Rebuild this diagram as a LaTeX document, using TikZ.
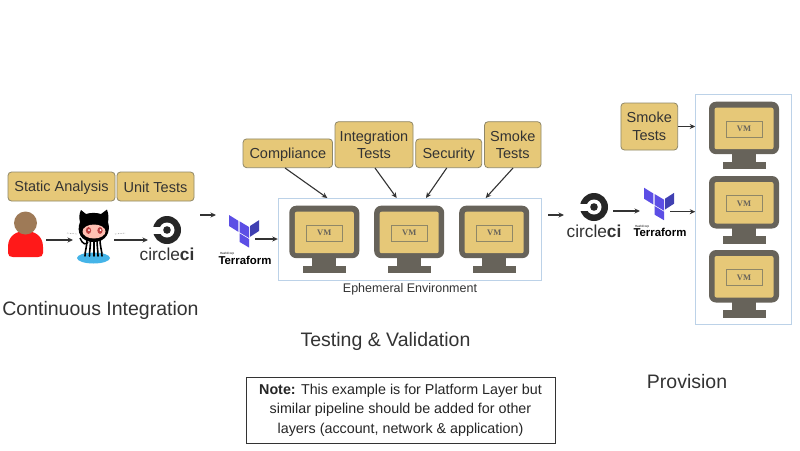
\documentclass[tikz,border=0pt]{standalone}
\usepackage{fontspec}
\setmainfont{Liberation Sans}
\newfontfamily\vmfont{Liberation Serif}
\usetikzlibrary{arrows.meta,calc}
\definecolor{boxfill}{HTML}{E6C878}
\definecolor{boxline}{HTML}{8F8767}
\definecolor{mongray}{HTML}{67635A}
\definecolor{envline}{HTML}{BCD2E8}
\definecolor{ink}{HTML}{333333}
\definecolor{tfpurple}{HTML}{5C4EE5}
\definecolor{tfdark}{HTML}{4040B2}
\definecolor{waterblue}{HTML}{45B4E8}
\tikzset{
  tag/.style={draw=boxline,fill=boxfill,rounded corners=3.5pt,line width=.8pt,align=center,text=ink,inner sep=0pt,
     font=\fontsize{14.5}{17.5}\selectfont},
  tagone/.style={tag,execute at begin node={\rule{0pt}{13pt}}},
  conn/.style={draw=ink,line width=1.1pt,-{Stealth[length=5.5pt,width=5pt]}},
  envbox/.style={draw=envline,line width=.9pt,inner sep=0pt},
  icon/.style={inner sep=0pt,outer sep=0pt},
  heading/.style={text=ink,inner sep=0pt,font=\fontsize{19.5}{23}\selectfont},
  vmlabel/.style={draw=boxline,line width=.9pt,inner sep=0pt,minimum width=36pt,minimum height=16.5pt,
     font=\vmfont\bfseries\fontsize{8.5}{10}\selectfont,text=mongray},
}
\newcommand{\vmscreen}[3]{% name, centre x, top y
  \begin{scope}[shift={(#2,#3)}]
    \fill[mongray] (-12,50) rectangle (12,62);
    \fill[mongray] (-21.5,60) rectangle (21.5,67.5);
    \node[icon,fill=mongray,rounded corners=7pt,minimum width=70pt,minimum height=52.5pt] (#1) at (0,26.25) {};
    \fill[boxfill,rounded corners=2pt] (-29.5,6) rectangle (29.5,47.5);
    \node[vmlabel] (#1vm) at (0,27.5) {VM};
  \end{scope}}
\newcommand{\tflogo}[3]{% name, x, y
  \begin{scope}[shift={(#2,#3)}]
    \node[icon,minimum width=30pt,minimum height=32pt] (#1) at (11,24) {};
    \fill[tfpurple] (0,0) -- (9.3,5.8) -- (9.3,16.8) -- (0,11) -- cycle;
    \fill[tfpurple] (10.7,6.4) -- (20,12) -- (20,23) -- (10.7,17.4) -- cycle;
    \fill[tfpurple] (10.7,18.4) -- (20,24) -- (20,32.5) -- (10.7,27) -- cycle;
    \fill[tfdark] (21,11) -- (30,5.2) -- (30,16) -- (21,21.8) -- cycle;
    \node[icon,font=\bfseries\fontsize{11.4}{14}\selectfont,text=black] (#1text) at (16,45) {Terraform};
    \node[icon,font=\fontsize{3}{3}\selectfont,text=black,anchor=west] (#1hc) at (-9,39) {HashiCorp};
  \end{scope}}
\newcommand{\cclogo}[4]{% name, x, y of logo centre, connector offset
  \begin{scope}[shift={(#2,#3)}]
    \fill[black!85] (0,0) circle (14);
    \fill[white] (0,0) circle (7.5);
    \fill[white] (-15,-3.5) rectangle (0,3.5);
    \fill[black!85] (0,0) circle (3.8);
    \node[icon,minimum width=38pt,minimum height=10pt] (#1) at (0,#4) {};
    \node[icon,text=ink,font=\fontsize{17.3}{20}\selectfont] (#1text) at (0,24.5) {circle\textbf{ci}};
  \end{scope}}
\begin{document}
\begin{tikzpicture}[x=1pt,y=-1pt]
\useasboundingbox (0,0) rectangle (800,450);
\fill[white] (0,0) rectangle (800,450);

% CI tags
\node[tagone,minimum width=107pt,minimum height=29pt] (static) at (61.5,186.5) {Static Analysis};
\node[tagone,minimum width=77pt,minimum height=29pt] (unit) at (155.5,186.5) {Unit Tests};

% person
\node[icon,minimum width=38pt,minimum height=20pt] (person) at (27,240) {};
\fill[red!90] (8,247) .. controls (8,236) and (16,231) .. (25.5,231)
   .. controls (35,231) and (43,236) .. (43,247) -- (43,253) .. controls (43,256) and (41,257) .. (38,257)
   -- (13,257) .. controls (10,257) and (8,256) .. (8,253) -- cycle;
\fill[brown!70!black!80] (25.5,223) circle (11.5);

% octocat
\node[icon,minimum width=41pt,minimum height=20pt] (octo) at (93.5,240) {};
\fill[waterblue] (93.5,258) ellipse (16.5 and 5.5);
\draw[black!45,line width=.6pt,densely dotted] (67,233) -- (77,234);
\draw[black!45,line width=.6pt,densely dotted] (115,234) -- (126,233);
\draw[black,line width=1.5pt] (80,238) .. controls (83,245) and (86,245) .. (88,242);
\foreach \q/\r in {87/85,90.5/89.5,94/94,97/98,100/102}{
  \draw[black,line width=1.6pt,line cap=round] (\q,238) .. controls (\q,248) and (\r,250) .. (\r,256);
}
\fill[black] (81,210) -- (86,214) .. controls (91,212.5) and (96,212.5) .. (101,214) -- (107,209.5)
   .. controls (108.5,214) and (109,218) .. (108,222)
   .. controls (111,232) and (106,242) .. (93.5,242)
   .. controls (81,242) and (76,232) .. (80,222) .. controls (79,218) and (79,214) .. (81,210) -- cycle;
\fill[orange!35!red!30!white] (94,231.5) ellipse (11.5 and 7);
\fill[red!65!black!75] (88.5,230.5) ellipse (2.6 and 3.4);
\fill[red!65!black!75] (100,230.5) ellipse (2.6 and 3.4);
\fill[white] (89,230) circle (1);
\fill[white] (100.5,230) circle (1);

% circleci + terraform
\cclogo{cci}{167}{230}{10}
\tflogo{tfa}{229}{215}
\cclogo{ccb}{594}{207}{4}
\tflogo{tfb}{644}{187.7}

% ephemeral
\node[envbox,minimum width=263.5pt,minimum height=82pt] (env) at (410,239) {};
\vmscreen{ma}{324.3}{205.7}
\vmscreen{mb}{409.2}{205.7}
\vmscreen{mc}{494.2}{205.7}
\node[icon,text=ink,font=\fontsize{12.5}{15}\selectfont] (envlabel) at (410,289) {Ephemeral Environment};

% test tags
\node[tagone,minimum width=89.5pt,minimum height=28.7pt] (comp) at (287.8,153.3) {Compliance};
\node[tag,minimum width=78pt,minimum height=46pt] (integ) at (374,144.7) {Integration\\Tests};
\node[tagone,minimum width=66pt,minimum height=28.7pt] (secur) at (448.7,153.3) {Security};
\node[tag,minimum width=56.5pt,minimum height=46pt] (smokea) at (512.8,144.7) {Smoke\\Tests};

% provision
\node[envbox,minimum width=96pt,minimum height=229.3pt] (prov) at (743.7,209.3) {};
\vmscreen{md}{744}{101.7}
\vmscreen{me}{744}{176}
\vmscreen{mf}{744}{250}
\node[tag,minimum width=56.7pt,minimum height=47pt] (smokeb) at (649.3,126.5) {Smoke\\Tests};

% connector ends
\coordinate (c1a) at (285,168);   \coordinate (e1) at (327.3,198);
\coordinate (c2a) at (375,168);   \coordinate (e2) at (396.7,198);
\coordinate (c3a) at (446.7,168); \coordinate (e3) at (426,198);
\coordinate (c4a) at (513,168);   \coordinate (e4) at (485.7,198);
\coordinate (f1a) at (200,215);   \coordinate (f1b) at (216,215);
\coordinate (f2a) at (548,215);   \coordinate (f2b) at (564,215);

\draw[conn] (person.east) -- (octo.west);
\draw[conn] (octo.east) -- (cci.west);
\draw[conn] (f1a) -- (f1b);
\draw[conn] (tfa.east) -- (tfa.east -| env.west);
\draw[conn] (c1a) -- (e1);
\draw[conn] (c2a) -- (e2);
\draw[conn] (c3a) -- (e3);
\draw[conn] (c4a) -- (e4);
\draw[conn] (f2a) -- (f2b);
\draw[conn] (ccb.east) -- (ccb.east -| tfb.west);
\draw[conn] (tfb.east) -- (tfb.east -| prov.west);
\draw[conn] (smokeb.east) -- (smokeb.east -| prov.west);

% headings
\node[heading] (h1) at (100.5,310) {Continuous Integration};
\node[heading] (h2) at (385.5,341) {Testing \& Validation};
\node[heading] (h3) at (687,381.5) {Provision};

% note
\node[draw=ink,line width=.9pt,minimum width=309pt,minimum height=66pt,inner sep=0pt,align=center,text=black!85,
   font=\fontsize{14.3}{19.5}\selectfont] (note) at (400.5,410)
   {\textbf{Note:} This example is for Platform Layer but\\similar pipeline should be added for other\\layers (account, network \& application)};
\end{tikzpicture}
\end{document}
